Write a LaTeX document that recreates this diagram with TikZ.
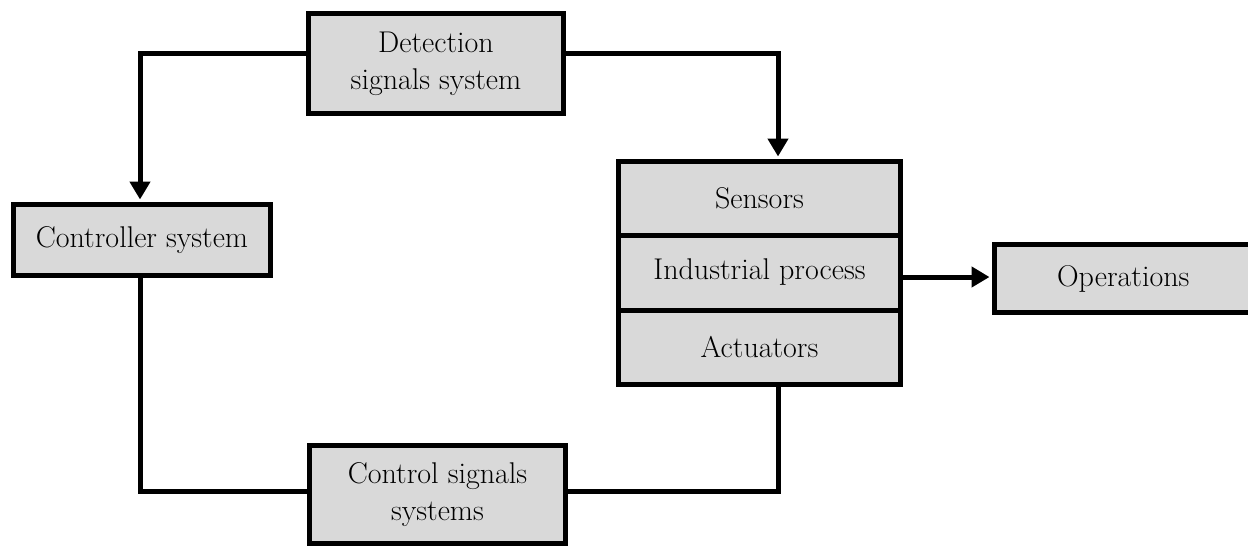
\documentclass[tikz,border=0pt]{standalone}
\usepackage{fontspec}
\setmainfont{Latin Modern Roman}
\usetikzlibrary{arrows.meta}
\definecolor{boxgray}{HTML}{D9D9D9}
\tikzset{
  blk/.style={draw=black, line width=5pt, fill=boxgray, inner sep=0pt, align=center,
    font=\fontsize{30}{37}\selectfont},
  conn/.style={draw=black, line width=5pt, line join=miter},
  arr/.style={conn, -{Triangle[length=18pt,width=20pt]}}
}
\begin{document}
\begin{tikzpicture}[x=1pt,y=-1pt]
\useasboundingbox (0,0) rectangle (1248,547);
% nodes
\node[blk, minimum width=255pt, minimum height=100pt] (det) at (436,63.5) {Detection\\signals system};
\node[blk, minimum width=257pt, minimum height=71pt] (ctrl) at (142,240) {Controller system};
\node[blk, minimum width=282pt, minimum height=73.5pt] (sens) at (759.5,198.25) {Sensors};
\node[blk, minimum width=282pt, minimum height=75pt] (ind) at (759.5,272.5) {Industrial process};
\node[blk, minimum width=282pt, minimum height=74.5pt] (act) at (759.5,347.25) {Actuators};
\node[blk, minimum width=257.5pt, minimum height=68pt] (ops) at (1123.25,278.5) {Operations};
\node[blk, minimum width=256pt, minimum height=98pt] (cs) at (437.5,494.5) {Control signals\\systems};
% helper coordinates
\coordinate (ytop) at (0,53);
\coordinate (ybot) at (0,491);
\coordinate (yops) at (0,277);
\coordinate (xl) at (140,0);
\coordinate (xr) at (778,0);
% connectors
\draw[arr] (det.west |- ytop) -| ([yshift=2.5pt]ctrl.north -| xl);
\draw[arr] (det.east |- ytop) -| ([yshift=2.5pt]sens.north -| xr);
\draw[conn] (ctrl.south -| xl) |- (cs.west |- ybot);
\draw[conn] (act.south -| xr) |- (cs.east |- ybot);
\draw[arr] (ind.east |- yops) -- ([xshift=-2.5pt]ops.west |- yops);
\end{tikzpicture}
\end{document}
